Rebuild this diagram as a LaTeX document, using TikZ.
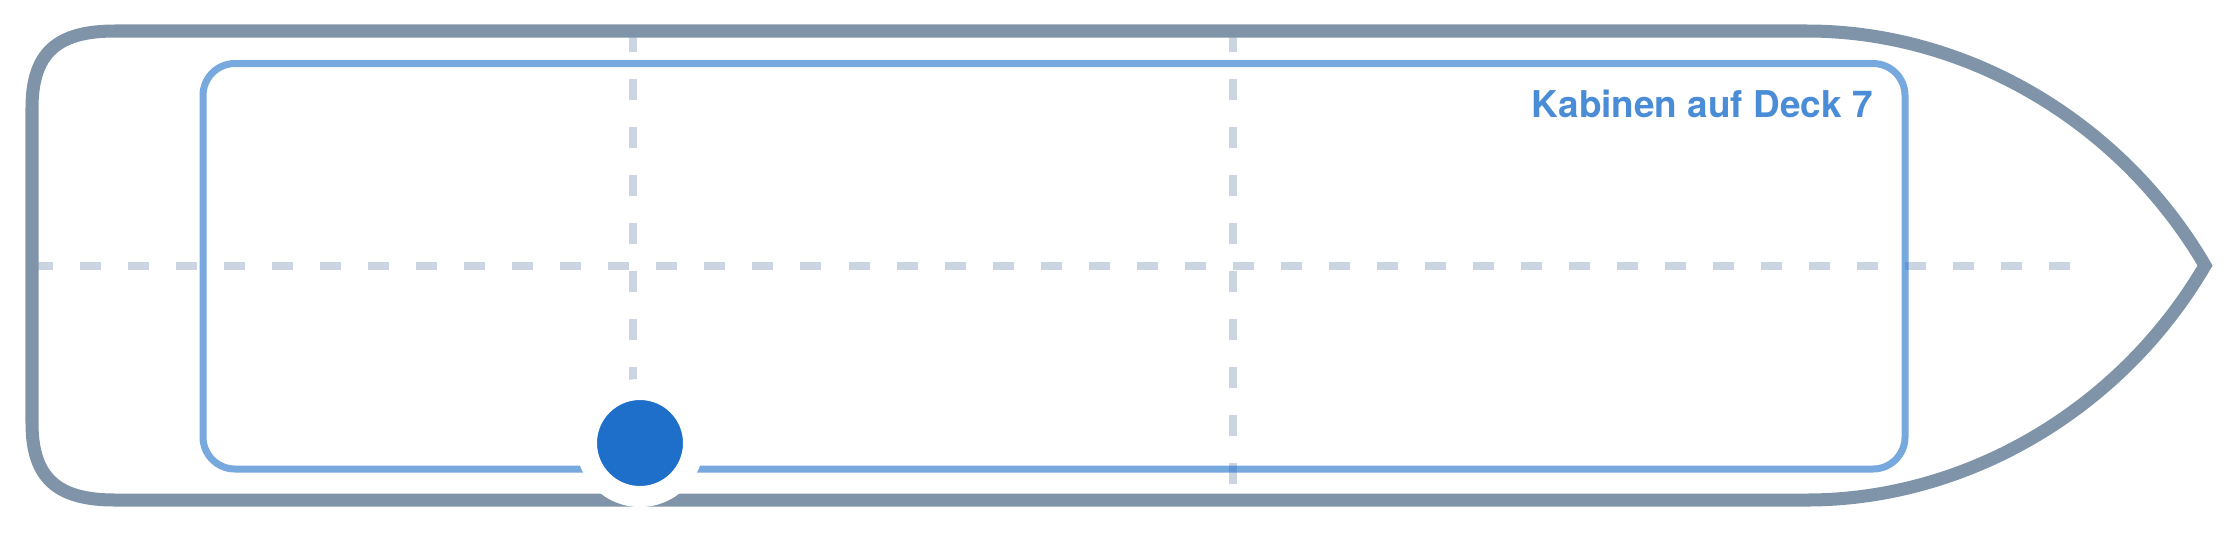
\documentclass[tikz,border=0pt]{standalone}
\usepackage{fontspec}
\newfontfamily\decklabelfont{TeX Gyre Heros}

\definecolor{hullgray}{HTML}{7F94A8}
\definecolor{cabinblue}{HTML}{1D6FCA}
\definecolor{gridgray}{HTML}{CBD5E1}
\definecolor{labelblue}{HTML}{4A8CD5}

\tikzset{
	hull/.style={draw=hullgray, line width=0.13cm, line join=miter},
	cabinframe/.style={draw=cabinblue, draw opacity=0.6, line width=0.07cm, rounded corners=0.32cm},
	gridline/.style={gridgray, line width=0.08cm, dash pattern=on 0.21cm off 0.27cm},
}

\begin{document}
\begin{tikzpicture}[x=0.01cm, y=-0.01cm]
	\useasboundingbox (0,0) rectangle (2240,533);

	\coordinate (SternT) at (32, 31);
	\coordinate (SternB) at (32, 500);
	\coordinate (BowT) at (1807, 31);
	\coordinate (BowB) at (1807, 500);
	\coordinate (Tip) at (2205, 265.5);
	\coordinate (MidL) at (32, 265.5);
	\coordinate (MidR) at (2070, 265.5);
	\coordinate (V1T) at (633, 31);
	\coordinate (V1B) at (633, 500);
	\coordinate (V2T) at (1233, 31);
	\coordinate (V2B) at (1233, 500);

	\draw [gridline] (MidL) -- (MidR);
	\draw [gridline] (V1T) -- (V1B);
	\draw [gridline] (V2T) -- (V2B);

	\draw [hull] (BowT) -- (115, 31) .. controls (58, 31) and (32, 52) .. (32, 108)
		-- (32, 423) .. controls (32, 479) and (58, 500) .. (115, 500)
		-- (BowB) .. controls (1965, 500) and (2120, 411) .. (Tip)
		.. controls (2120, 120) and (1965, 31) .. cycle;

	\draw [cabinframe] (203, 63.5) rectangle (1905, 469);

	\node[anchor=base east, text=labelblue, font=\decklabelfont\bfseries\fontsize{10.5}{12}\selectfont] (decktitle) at (1885, 117) {Kabinen auf Deck 7};

	\node[circle, fill=cabinblue, draw=white, line width=0.21cm, inner sep=0pt, minimum size=1.07cm] (marker) at (640, 443) {};
\end{tikzpicture}
\end{document}
